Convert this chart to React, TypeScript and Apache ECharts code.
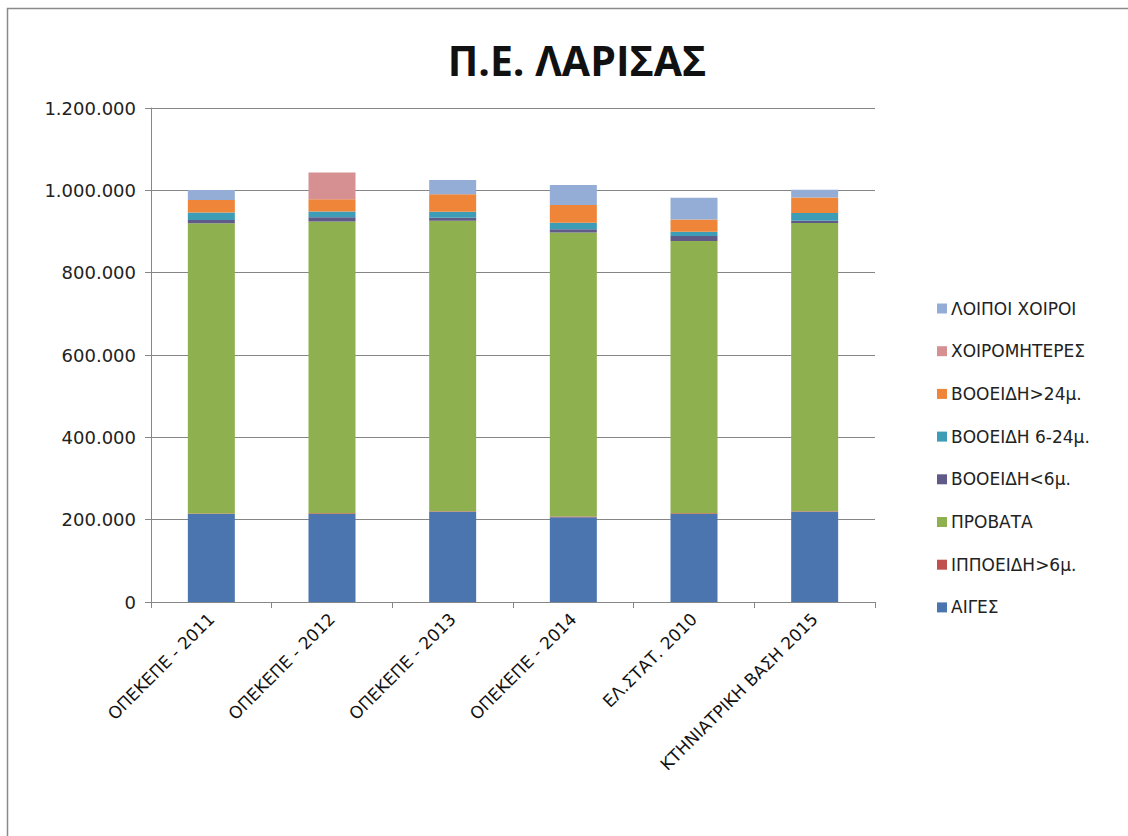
import React, { useEffect, useRef } from "react";
import * as echarts from "echarts";

const categories = [
  "ΟΠΕΚΕΠΕ - 2011",
  "ΟΠΕΚΕΠΕ - 2012",
  "ΟΠΕΚΕΠΕ - 2013",
  "ΟΠΕΚΕΠΕ - 2014",
  "ΕΛ.ΣΤΑΤ. 2010",
  "ΚΤΗΝΙΑΤΡΙΚΗ ΒΑΣΗ 2015",
];

const seriesNames = [
  "ΑΙΓΕΣ",
  "ΙΠΠΟΕΙΔΗ>6μ.",
  "ΠΡΟΒΑΤΑ",
  "ΒΟΟΕΙΔΗ<6μ.",
  "ΒΟΟΕΙΔΗ 6-24μ.",
  "ΒΟΟΕΙΔΗ>24μ.",
  "ΧΟΙΡΟΜΗΤΕΡΕΣ",
  "ΛΟΙΠΟΙ ΧΟΙΡΟΙ",
];

const aiges = [214000, 214000, 219000, 206000, 214000, 219000];
const ippoeidi = [1200, 1300, 1300, 1400, 1800, 1500];
const provata = [705000, 709000, 706000, 690000, 661000, 700000];
const vooeidiUnder6 = [8000, 10500, 7300, 8000, 12000, 5600];
const vooeidi6to24 = [17700, 13600, 14600, 16000, 10500, 18700];
const vooeidiOver24 = [30800, 30000, 42000, 43000, 30000, 38000];
const xoiromiteres = [0, 65000, 0, 0, 0, 0];
const loipoiXoiroi = [24300, 0, 34700, 48600, 52500, 18700];

const yTicks = [0, 200000, 400000, 600000, 800000, 1000000, 1200000];

const colors = [
  "#4A75AE",
  "#C0504D",
  "#8FB04E",
  "#5F5A88",
  "#3E9DB6",
  "#EE8539",
  "#D69092",
  "#93ADD6",
];

const seriesData = [
  aiges,
  ippoeidi,
  provata,
  vooeidiUnder6,
  vooeidi6to24,
  vooeidiOver24,
  xoiromiteres,
  loipoiXoiroi,
];

function fmt(v: number): string {
  return String(v).replace(/\B(?=(\d{3})+(?!\d))/g, ".");
}

export default function App() {
  const ref = useRef<HTMLDivElement>(null);
  useEffect(() => {
    if (!ref.current) return;
    const chart = echarts.init(ref.current, null, { renderer: "svg" });
    const font = "'DejaVu Sans', 'Open Sans', sans-serif";
    const titleFont = "'Open Sans', 'DejaVu Sans', sans-serif";
    chart.setOption({
      animation: false,
      backgroundColor: "#ffffff",
      textStyle: { fontFamily: font },
      title: {
        text: "Π.Ε. ΛΑΡΙΣΑΣ",
        left: 572,
        textAlign: "center",
        top: 34,
        textStyle: {
          fontFamily: titleFont,
          fontSize: 41,
          fontWeight: "bold",
          color: "#111111",
        },
      },
      graphic: [
        {
          type: "rect",
          shape: { x: 7.5, y: 8.5, width: 1300, height: 1000 },
          style: { fill: "none", stroke: "#8a8a8a", lineWidth: 1.5 },
          silent: true,
        },
      ],
      legend: {
        orient: "vertical",
        left: 932,
        top: 295,
        itemWidth: 10,
        itemHeight: 10,
        itemGap: 25.7,
        icon: "rect",
        data: [...seriesNames].reverse(),
        textStyle: {
          fontFamily: font,
          fontSize: 17,
          lineHeight: 14,
          color: "#222222",
          padding: [0, 0, 0, -1],
        },
      },
      grid: { left: 151, top: 108, right: 253, bottom: 234, containLabel: false },
      xAxis: {
        type: "category",
        data: categories,
        boundaryGap: true,
        axisLine: { show: true, lineStyle: { color: "#868686", width: 1 } },
        axisTick: { show: true, alignWithLabel: false, length: 6, lineStyle: { color: "#868686" } },
        axisLabel: {
          rotate: 45,
          interval: 0,
          margin: 14,
          fontFamily: font,
          fontSize: 17,
          color: "#111111",
        },
      },
      yAxis: {
        type: "value",
        min: 0,
        max: 1200000,
        interval: 200000,
        axisLine: { show: true, lineStyle: { color: "#868686", width: 1 } },
        axisTick: { show: true, length: 6, lineStyle: { color: "#868686" } },
        splitLine: { show: true, lineStyle: { color: "#868686", width: 1 } },
        axisLabel: {
          margin: 15,
          fontFamily: font,
          fontSize: 18,
          color: "#222222",
          formatter: (v: number) => (yTicks.includes(v) ? fmt(v) : ""),
        },
      },
      series: seriesNames.map((name, i) => ({
        name,
        type: "bar",
        stack: "total",
        barWidth: 47,
        data: seriesData[i],
        itemStyle: { color: colors[i] },
      })),
    });
    return () => chart.dispose();
  }, []);
  return (
    <div
      ref={ref}
      style={{ position: "fixed", left: 0, top: 0, width: 1128, height: 836 }}
    />
  );
}
